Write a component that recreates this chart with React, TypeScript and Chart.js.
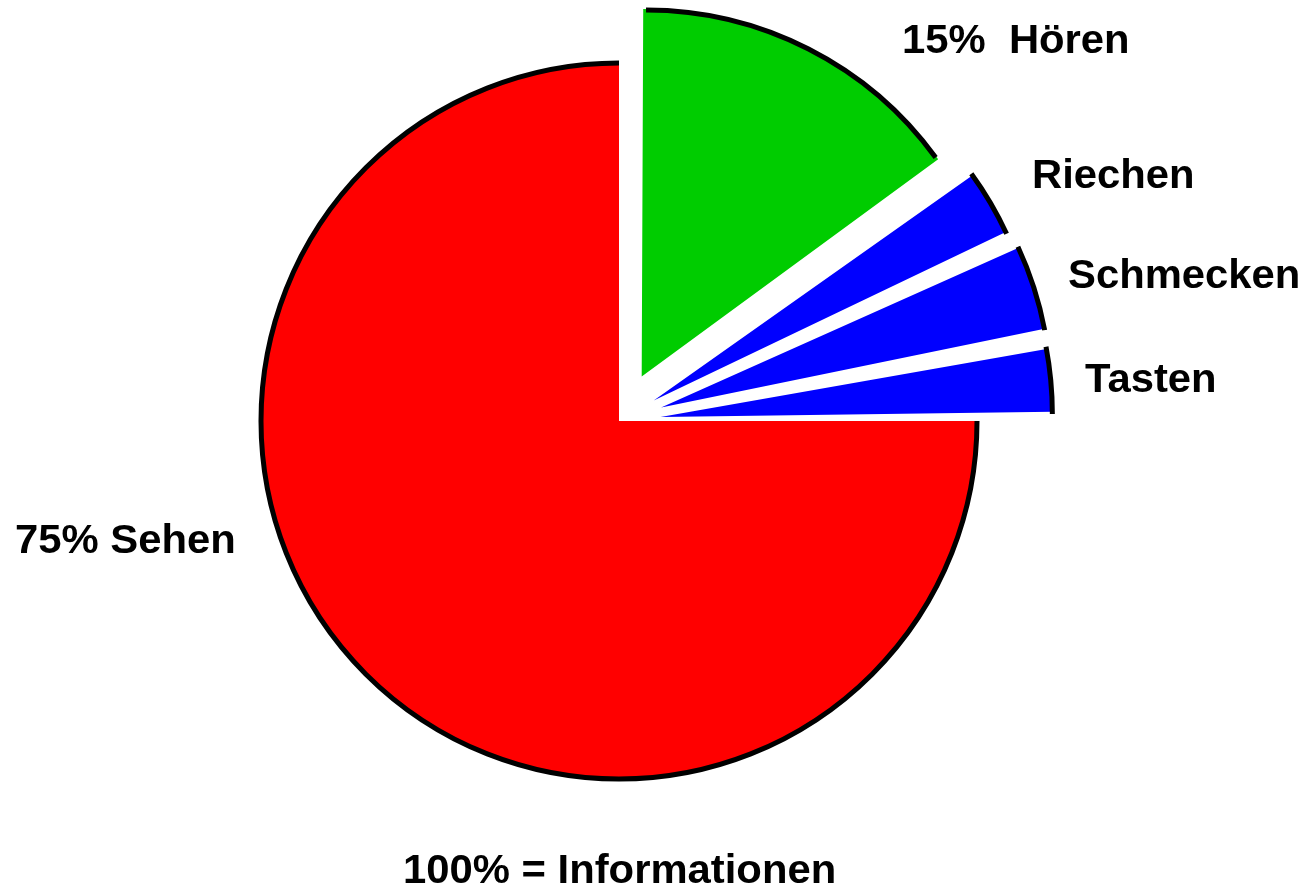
import React, { useEffect, useRef } from "react";
import { Chart, registerables } from "chart.js";

Chart.register(...registerables);

const categories = ["Hören", "Riechen", "Schmecken", "Tasten", "Sehen"];
const shares = [15, 3.1, 3.9, 3.0, 75];
const sliceColors = ["#00CC00", "#0000FF", "#0000FF", "#0000FF", "#FF0000"];
const sliceOffsets = [200, 161, 177, 167, 0];

const labelTexts = ["15%  Hören", "Riechen", "Schmecken", "Tasten", "75% Sehen", "100% = Informationen"];
const labelX = [902, 1032, 1068, 1085, 15, 403];
const labelY = [53, 188, 288, 392, 553, 883];

const outerArcPlugin = {
  id: "outerArc",
  afterDatasetsDraw(chart: any) {
    const ctx = chart.ctx;
    const meta = chart.getDatasetMeta(0);
    ctx.save();
    ctx.strokeStyle = "#000000";
    ctx.lineWidth = 5;
    meta.data.forEach((el: any) => {
      const { x, y, startAngle, endAngle, outerRadius, circumference } = el;
      const offset = (el.options.offset || 0) / 4;
      const half = (startAngle + endAngle) / 2;
      const fix = 1 - Math.sin(Math.min(Math.PI, circumference || 0));
      const t = offset * (1 + fix);
      const cx = x + Math.cos(half) * t;
      const cy = y + Math.sin(half) * t;
      ctx.beginPath();
      ctx.arc(cx, cy, outerRadius, startAngle, endAngle);
      ctx.stroke();
    });
    ctx.restore();
  },
};

const textPlugin = {
  id: "texts",
  afterDraw(chart: any) {
    const ctx = chart.ctx;
    ctx.save();
    ctx.fillStyle = "#000000";
    ctx.font = 'bold 40px "Liberation Sans", Arial, sans-serif';
    ctx.textAlign = "left";
    ctx.textBaseline = "alphabetic";
    labelTexts.forEach((t, i) => {
      ctx.save();
      ctx.translate(labelX[i], labelY[i]);
      ctx.scale(1.045, 1);
      ctx.fillText(t, 0, 0);
      ctx.restore();
    });
    ctx.restore();
  },
};

export default function App() {
  const ref = useRef<HTMLCanvasElement | null>(null);
  useEffect(() => {
    if (!ref.current) return;
    const chart = new Chart(ref.current, {
      type: "pie",
      data: {
        labels: categories,
        datasets: [
          {
            data: shares,
            backgroundColor: sliceColors,
            borderWidth: 0,
            offset: sliceOffsets,
          },
        ],
      },
      options: {
        animation: false,
        responsive: true,
        maintainAspectRatio: false,
        radius: 358,
        layout: { padding: { left: 0, right: 67, top: 0, bottom: 45 } },
        plugins: {
          legend: { display: false },
          tooltip: { enabled: false },
          title: { display: false },
        },
      },
      plugins: [outerArcPlugin, textPlugin],
    } as any);
    return () => chart.destroy();
  }, []);
  return (
    <div style={{ position: "fixed", left: 0, top: 0, width: 1305, height: 887, background: "#ffffff" }}>
      <canvas ref={ref} />
    </div>
  );
}
